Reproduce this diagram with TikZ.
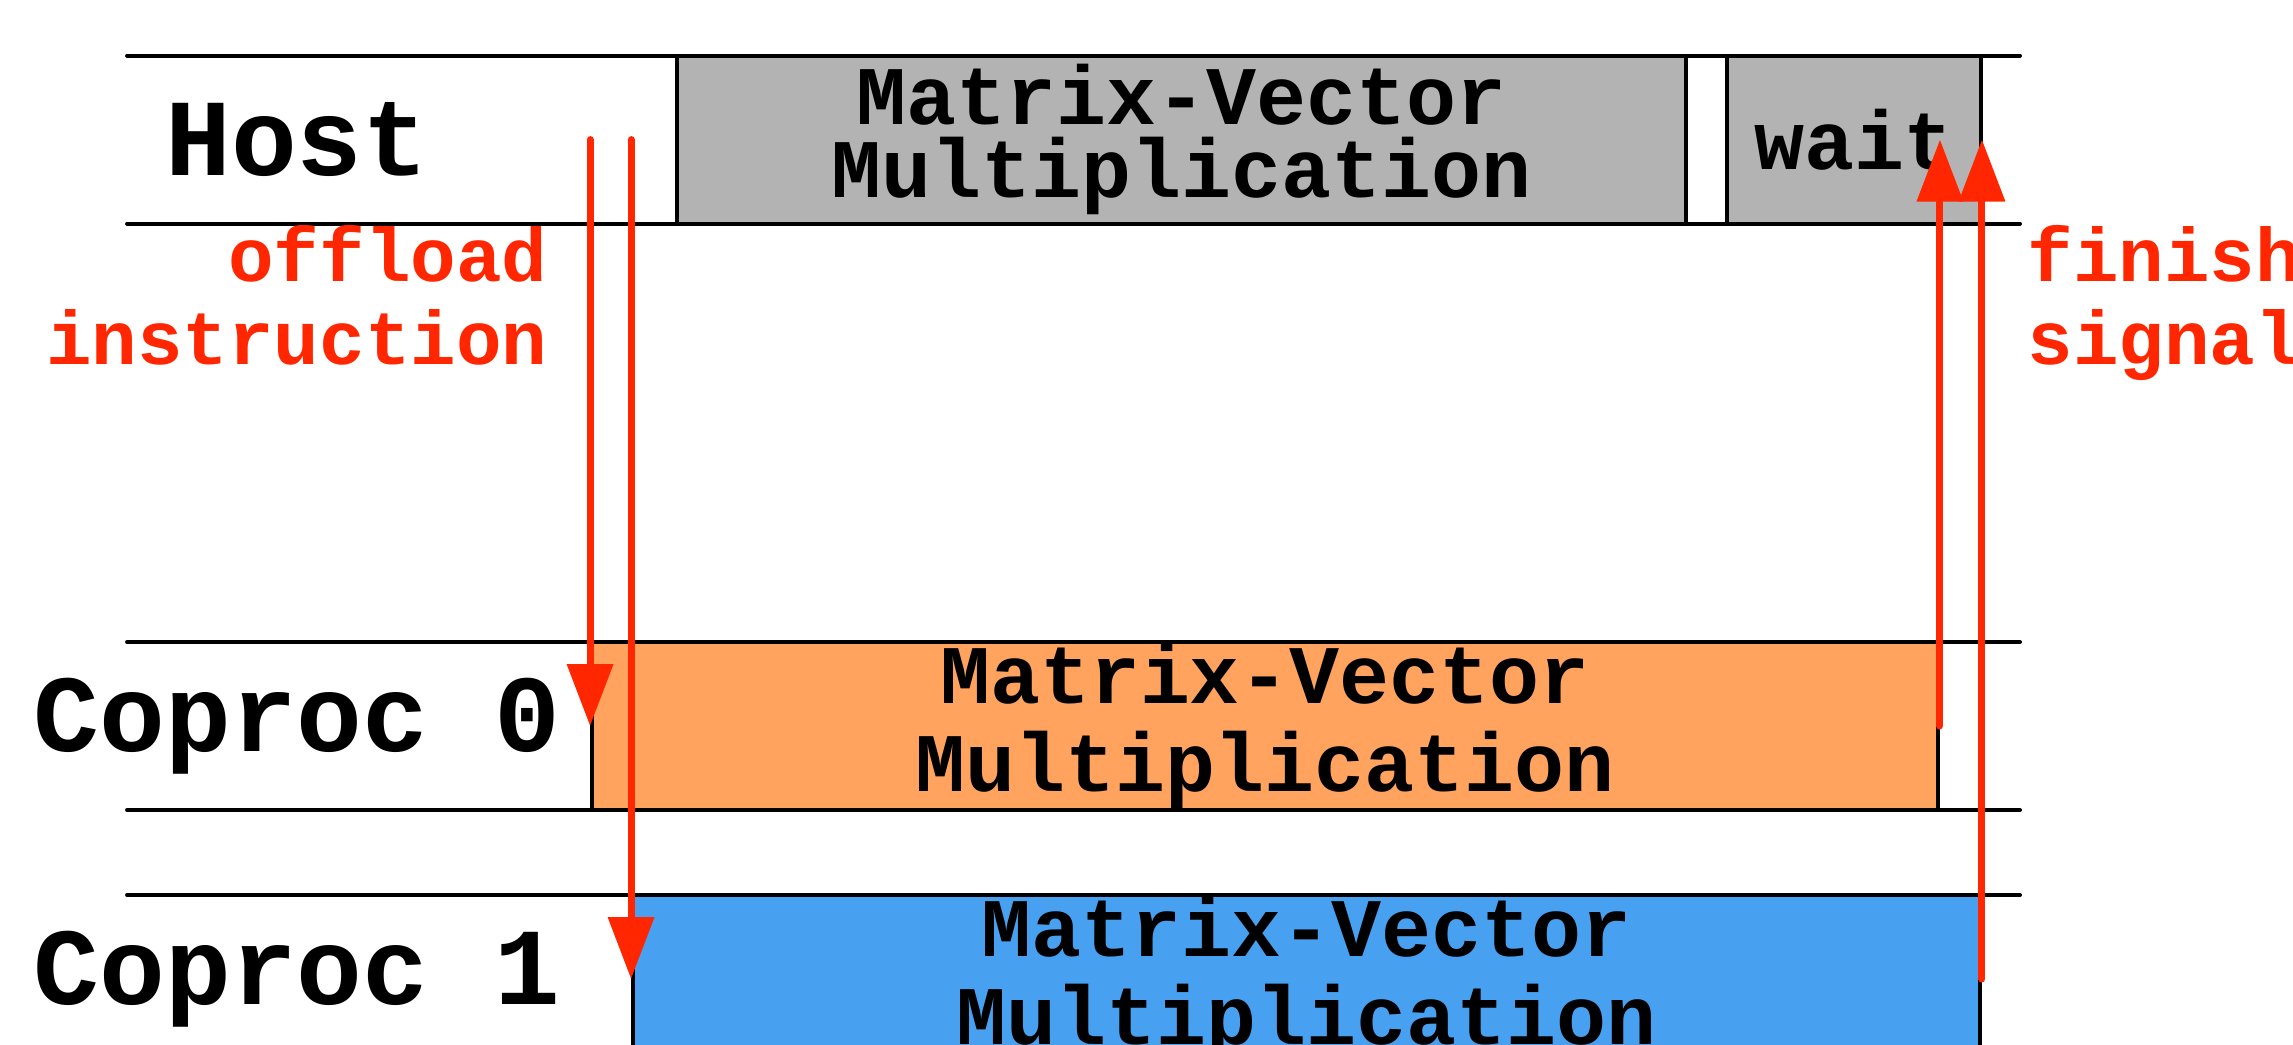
\documentclass[tikz,border=0pt]{standalone}
\usepackage{fontspec}
\setmonofont{Liberation Mono}
\usetikzlibrary{arrows.meta,positioning}

\definecolor{hostgrey}{RGB}{179,179,179}
\definecolor{coprozero}{RGB}{255,163,94}
\definecolor{coproone}{RGB}{72,161,240}
\definecolor{signalred}{RGB}{255,38,0}

\tikzset{
  lanelabel/.style={font=\ttfamily\bfseries\fontsize{31.2}{36}\selectfont, inner sep=0pt},
  task/.style={draw=black, line width=1.1pt, inner sep=0pt, minimum height=1.68cm,
    align=center, font=\ttfamily\bfseries\fontsize{23.7}{25}\selectfont},
  signal/.style={draw=signalred, line width=2pt, line cap=round,
    -{Triangle[width=0.45cm, length=0.62cm]}},
  signaltext/.style={text=signalred, inner sep=0pt,
    font=\ttfamily\bfseries\fontsize{21.6}{23.6}\selectfont},
}

\begin{document}
\begin{tikzpicture}
    \useasboundingbox (0,0) rectangle (22.93,10.44);
    \clip (0,0) rectangle (22.93,10.44);

    \foreach \y in {9.884, 8.204, 4.02, 2.34, 1.49}
      \draw[line width=1.1pt, line cap=round] (1.27,\y) -- (20.2,\y);

    \node[lanelabel] (host) at (2.97, 9.044) {Host};
    \node[lanelabel] (copro0) at (2.97, 3.18) {Coproc 0};
    \node[lanelabel] (copro1) at (2.97, 0.65) {Coproc 1};

    \node[task, fill=hostgrey, minimum width=10.09cm, font=\ttfamily\bfseries\fontsize{23.7}{20.8}\selectfont]
      (hostmv) at (11.815, 9.044) {Matrix-Vector\\Multiplication};
    \node[task, fill=hostgrey, minimum width=2.54cm] (wait) at (18.54, 9.044) {wait};

    \node[task, fill=coprozero, minimum width=13.46cm]
      (mv0) at (12.65, 3.18) {Matrix-Vector\\Multiplication};
    \node[task, fill=coproone, minimum width=13.47cm]
      (mv1) at (13.065, 0.65) {Matrix-Vector\\Multiplication};

    \coordinate (start0) at (mv0.west |- host);
    \coordinate (start1) at (mv1.west |- host);
    \coordinate (done0) at (mv0.east |- host);
    \coordinate (done1) at (mv1.east |- host);

    \draw[signal] (start0) -- (mv0.west);
    \draw[signal] (start1) -- (mv1.west);
    \draw[signal] (mv0.east) -- (done0);
    \draw[signal] (mv1.east) -- (done1);

    \node[signaltext, align=right, anchor=base east] (offload) at (5.48, 6.80)
      {offload\\instruction};
    \node[signaltext, align=left, anchor=base west] (finish) at (20.27, 6.80)
      {finish\\signal};
  \end{tikzpicture}
\end{document}
